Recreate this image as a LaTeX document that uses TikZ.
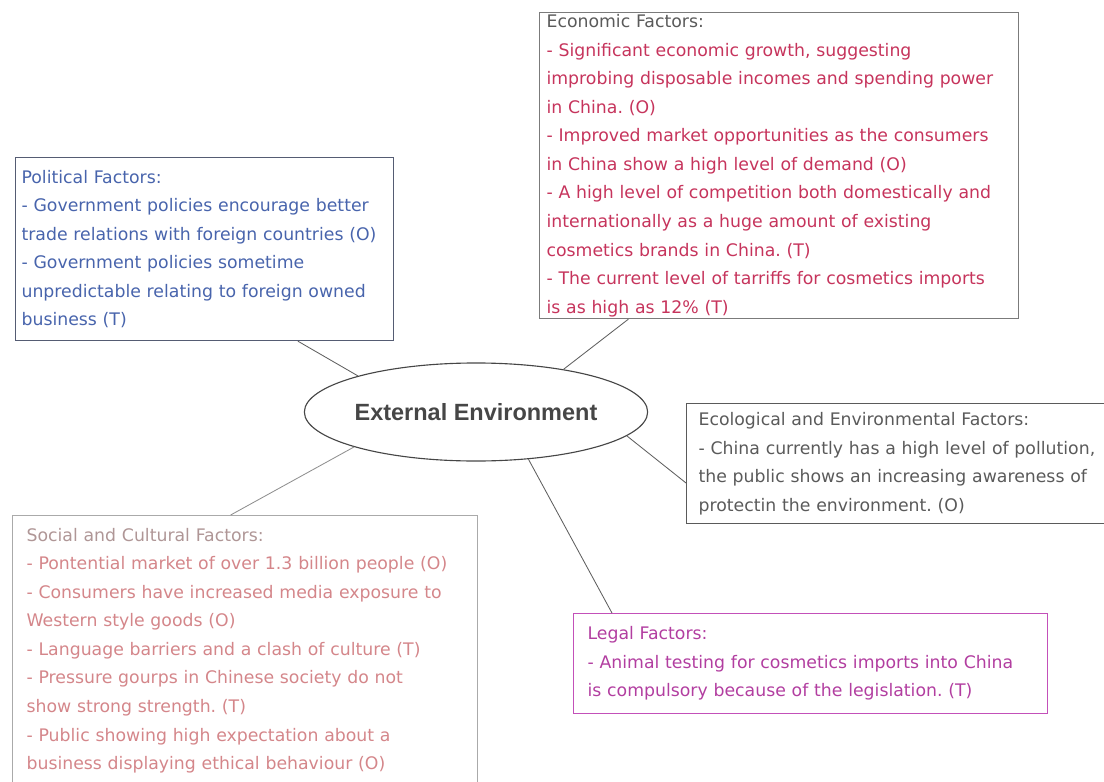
\documentclass[tikz,border=0pt]{standalone}
\usepackage{fontspec}
\usepackage{xcolor}
\usepackage{tikz}
\usetikzlibrary{shapes.geometric,calc}
\setmainfont{DejaVu Sans}
\newfontfamily\titlefont{Liberation Sans}
\frenchspacing
\definecolor{polblue}{RGB}{72,100,172}
\definecolor{polframe}{RGB}{85,92,115}
\definecolor{ecogray}{RGB}{90,90,90}
\definecolor{ecored}{RGB}{198,52,92}
\definecolor{envgray}{RGB}{70,70,70}
\definecolor{socframe}{RGB}{170,170,170}
\definecolor{sochead}{RGB}{175,150,150}
\definecolor{socpink}{RGB}{212,134,138}
\definecolor{legframe}{RGB}{195,80,185}
\definecolor{legmag}{RGB}{178,62,160}
\definecolor{linkgray}{RGB}{95,95,95}

\begin{document}
\begin{tikzpicture}[x=0.025cm,y=-0.025cm,
    factor/.style={draw, rectangle, anchor=north west, align=left, inner ysep=0pt,
        line width=0.8pt, font=\fontsize{12.3}{20.3}\selectfont},
    link/.style={draw=linkgray, line width=0.6pt}]
    %画布大小
    \useasboundingbox (0,0) rectangle (1104,782);
    %中心椭圆
    \node[draw=envgray, ellipse, line width=0.8pt, minimum width=8.55cm, minimum height=2.45cm,
        inner sep=0pt, text=envgray, font=\titlefont\bfseries\fontsize{16.7}{20}\selectfont]
        (env) at (476,412) {External Environment};
    %政治因素
    \node[factor, draw=polframe, text=polblue, text width=9.15cm, inner xsep=0.15cm,
        minimum height=4.575cm] (pol) at (15,157)
        {Political Factors:\\
         - Government policies encourage better\\
         trade relations with foreign countries (O)\\
         - Government policies sometime\\
         unpredictable relating to foreign owned\\
         business (T)};
    %经济因素
    \node[factor, draw=ecogray!80, text=ecored, text width=11.625cm, inner xsep=0.175cm,
        minimum height=7.65cm] (eco) at (539,12)
        {{\color{ecogray}Economic Factors:}\\
         - Significant economic growth, suggesting\\
         improbing disposable incomes and spending power\\
         in China. (O)\\
         - Improved market opportunities as the consumers\\
         in China show a high level of demand (O)\\
         - A high level of competition both domestically and\\
         internationally as a huge amount of existing\\
         cosmetics brands in China. (T)\\
         - The current level of tarriffs for cosmetics imports\\
         is as high as 12\% (T)};
    %生态环境因素
    \node[factor, draw=ecogray, text=ecogray, text width=11cm, inner xsep=0.3cm,
        minimum height=3cm] (ecol) at (686,403)
        {Ecological and Environmental Factors:\\
         - China currently has a high level of pollution,\\
         the public shows an increasing awareness of\\
         protectin the environment. (O)};
    %社会文化因素
    \node[factor, draw=socframe, text=socpink, text width=10.925cm, inner xsep=0.35cm,
        minimum height=6.75cm] (soc) at (12,515)
        {{\color{sochead}Social and Cultural Factors:}\\
         - Pontential market of over 1.3 billion people (O)\\
         - Consumers have increased media exposure to\\
         Western style goods (O)\\
         - Language barriers and a clash of culture (T)\\
         - Pressure gourps in Chinese society do not\\
         show strong strength. (T)\\
         - Public showing high expectation about a\\
         business displaying ethical behaviour (O)};
    %法律因素
    \node[factor, draw=legframe, text=legmag, text width=11.15cm, inner xsep=0.35cm,
        minimum height=2.5cm] (leg) at (573,613)
        {Legal Factors:\\
         - Animal testing for cosmetics imports into China\\
         is compulsory because of the legislation. (T)};
    %连线
    \draw[link] (env.163) -- ($(pol.south west)!0.746!(pol.south east)$);
    \draw[link] (env.26) -- ($(eco.south west)!0.186!(eco.south east)$);
    \draw[link] (env.-9) -- ($(ecol.north west)!0.66!(ecol.south west)$);
    \draw[link] (env.-42) -- ($(leg.north west)!0.082!(leg.north east)$);
    \draw[link, draw=linkgray!70] (env.196) -- ($(soc.north west)!0.469!(soc.north east)$);
\end{tikzpicture}
\end{document}
